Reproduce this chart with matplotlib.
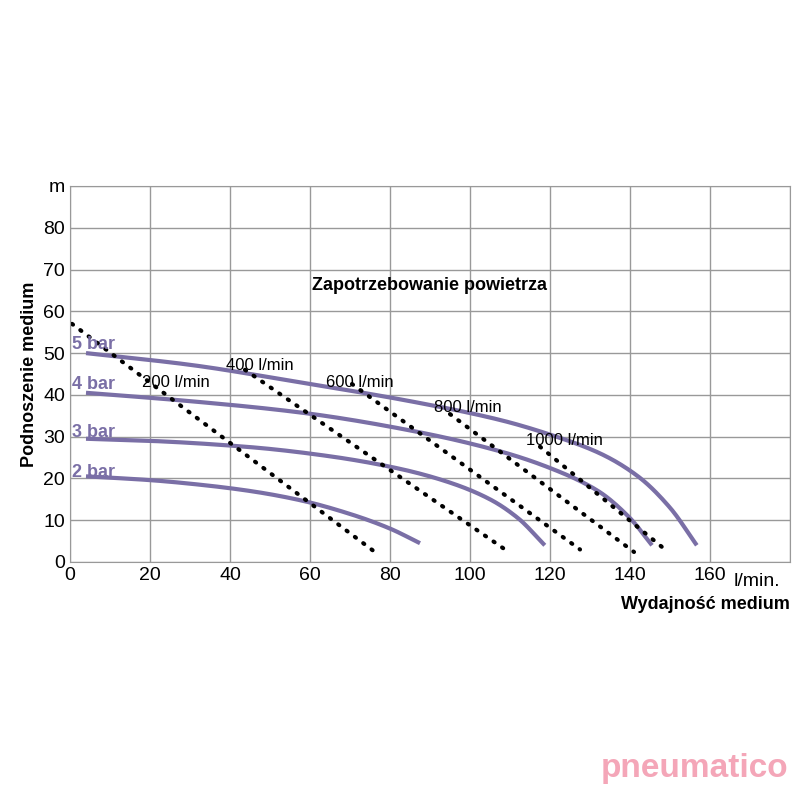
import numpy as np
import matplotlib.pyplot as plt

plt.rcParams['font.family'] = ['Liberation Sans', 'DejaVu Sans']

# pump curves (flow l/min, head m)
bar_labels = ["5 bar", "4 bar", "3 bar", "2 bar"]
bar_x = [[4, 30, 57.5, 85, 107.5, 120, 132.5, 142, 150, 156.7],
         [4, 30, 57.5, 85, 107.5, 120, 132, 140, 145.5],
         [4, 20, 45, 65, 82.5, 95, 105, 112, 118.7],
         [4, 20, 32.5, 45, 57.5, 70, 80, 87.5]]
bar_y = [[50, 47.2, 43, 38.5, 34, 30.5, 26, 20.5, 13, 4],
         [40.5, 38.5, 35.8, 31.5, 26.5, 22.5, 17, 10.5, 4],
         [29.5, 29, 27.5, 25.3, 22.3, 19, 15, 10.5, 4],
         [20.5, 19.6, 18.5, 17, 14.8, 11.5, 8, 4.5]]

# air consumption lines
air_labels = ["200 l/min", "400 l/min", "600 l/min", "800 l/min", "1000 l/min"]
air_x0 = [0.5, 43.75, 70.5, 95, 117.5]
air_y0 = [57, 46, 42.6, 35.4, 27.6]
air_x1 = [76.5, 108.75, 127.5, 141, 148.75]
air_y1 = [2.2, 3, 3, 2.4, 3]
air_lbl_pos = [(18, 43), (39, 47), (64, 43), (91, 37), (114, 29)]

purple = "#7a6fa6"


def pchip(x, y, xn):
    x = np.asarray(x, float)
    y = np.asarray(y, float)
    h = np.diff(x)
    d = np.diff(y) / h
    m = np.zeros_like(y)
    for k in range(1, len(x) - 1):
        if d[k - 1] * d[k] > 0:
            w1 = 2 * h[k] + h[k - 1]
            w2 = h[k] + 2 * h[k - 1]
            m[k] = (w1 + w2) / (w1 / d[k - 1] + w2 / d[k])
    m[0] = d[0]
    m[-1] = d[-1]
    idx = np.clip(np.searchsorted(x, xn) - 1, 0, len(h) - 1)
    t = (xn - x[idx]) / h[idx]
    h00 = 2 * t**3 - 3 * t**2 + 1
    h10 = t**3 - 2 * t**2 + t
    h01 = -2 * t**3 + 3 * t**2
    h11 = t**3 - t**2
    return h00 * y[idx] + h10 * h[idx] * m[idx] + h01 * y[idx + 1] + h11 * h[idx] * m[idx + 1]


fig = plt.figure(figsize=(8, 8), dpi=100)
ax = fig.add_axes([0.0875, 0.2975, 0.9, 0.47])

for xs, ys in zip(bar_x, bar_y):
    xs_f = np.linspace(xs[0], xs[-1], 300)
    ax.plot(xs_f, pchip(xs, ys, xs_f), color=purple, lw=3, solid_capstyle="butt")

for lbl, y in zip(bar_labels, [52, 42.5, 31, 21.5]):
    ax.text(0.5, y, lbl, color=purple, fontsize=13, fontweight="bold", va="center")

for x0, y0, x1, y1 in zip(air_x0, air_y0, air_x1, air_y1):
    ax.plot([x0, x1], [y0, y1], color="black", lw=3, ls=(0, (0.3, 2.2)),
            dash_capstyle="round")

for lbl, (x, y) in zip(air_labels, air_lbl_pos):
    ax.text(x, y, lbl, fontsize=12, ha="left", va="center")

ax.text(90, 65, "Zapotrzebowanie powietrza", fontsize=13, fontweight="bold", ha="center")

ax.set_xlim(0, 180)
ax.set_ylim(0, 90)
ax.set_xticks(range(0, 181, 20))
ax.set_yticks(range(0, 91, 10))
ax.set_xticklabels([str(v) for v in range(0, 161, 20)] + [""], fontsize=14)
ax.set_yticklabels([str(v) for v in range(0, 81, 10)] + ["m"], fontsize=14)
ax.text(166, -2.6, "l/min.", fontsize=14, ha="left", va="top")
ax.grid(True, color="#999999", lw=1)
ax.tick_params(length=0)
for s in ax.spines.values():
    s.set_color("#999999")
ax.set_ylabel("Podnoszenie medium", fontsize=13, fontweight="bold")
ax.text(1.0, -0.09, "Wydajność medium", transform=ax.transAxes, fontsize=13,
        fontweight="bold", ha="right", va="top")

fig.text(0.985, 0.02, "pneumatico", color="#f4a6b8", fontsize=24, fontweight="bold",
         ha="right", va="bottom")

fig.savefig("out.png")
